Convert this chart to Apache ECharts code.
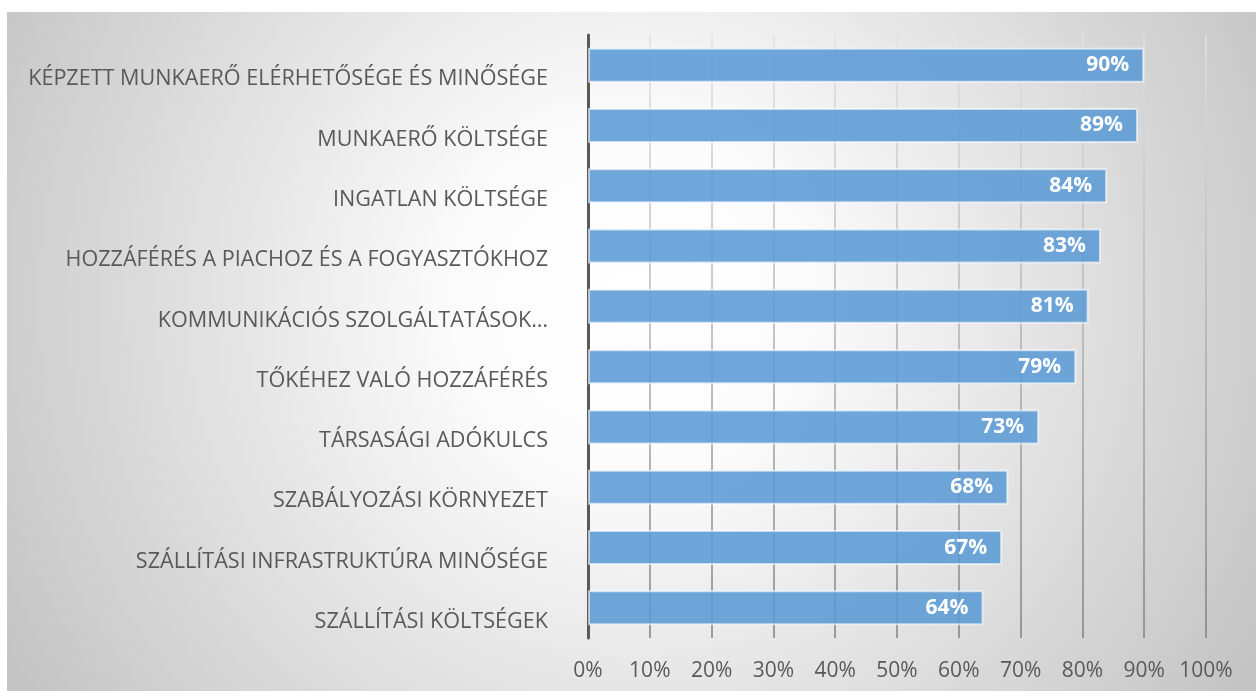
<!DOCTYPE html>
<html>
<head>
<meta charset="utf-8">
<script src="https://cdn.jsdelivr.net/npm/echarts@6/dist/echarts.min.js"></script>
<style>html,body{margin:0;padding:0;background:#fff;}#c{width:1256px;height:691px;}</style>
</head>
<body>
<div id="c"></div>
<script>
const categories = [
  'KÉPZETT MUNKAERŐ ELÉRHETŐSÉGE ÉS MINŐSÉGE',
  'MUNKAERŐ KÖLTSÉGE',
  'INGATLAN KÖLTSÉGE',
  'HOZZÁFÉRÉS A PIACHOZ ÉS A FOGYASZTÓKHOZ',
  'KOMMUNIKÁCIÓS SZOLGÁLTATÁSOK…',
  'TŐKÉHEZ VALÓ HOZZÁFÉRÉS',
  'TÁRSASÁGI ADÓKULCS',
  'SZABÁLYOZÁSI KÖRNYEZET',
  'SZÁLLÍTÁSI INFRASTRUKTÚRA MINŐSÉGE',
  'SZÁLLÍTÁSI KÖLTSÉGEK'
];
const values = [90, 89, 84, 83, 81, 79, 73, 68, 67, 64];
const xTicks = [0, 10, 20, 30, 40, 50, 60, 70, 80, 90, 100];

const chart = echarts.init(document.getElementById('c'), null, {renderer: 'canvas'});
const font = '"Open Sans", sans-serif';
chart.setOption({
  animation: false,
  graphic: {
    elements: [{
      type: 'rect', z: -100, silent: true,
      shape: {x: 7, y: 12, width: 1249, height: 679},
      style: {
        fill: new echarts.graphic.RadialGradient(631, 300, 720, [
          {offset: 0, color: '#ffffff'},
          {offset: 0.25, color: '#fbfbfb'},
          {offset: 1, color: '#c4c4c4'}
        ], true)
      }
    }]
  },
  grid: {left: 588, right: 50, top: 35, bottom: 53, containLabel: false},
  xAxis: {
    type: 'value', min: xTicks[0], max: xTicks[xTicks.length - 1], interval: 10,
    axisLine: {show: false}, axisTick: {show: false},
    axisLabel: {formatter: '{value}%', color: '#595959', fontFamily: font, fontSize: 21, margin: 23},
    splitLine: {show: true, lineStyle: {width: 1.5, color: new echarts.graphic.LinearGradient(0, 35, 0, 638, [
      {offset: 0, color: '#e2e2e2'},
      {offset: 1, color: '#808080'}
    ], true)}}
  },
  yAxis: {
    type: 'category', inverse: true, data: categories,
    axisLine: {show: true, lineStyle: {color: '#595959', width: 3}},
    axisTick: {show: false},
    axisLabel: {color: '#595959', fontFamily: font, fontSize: 21.6, margin: 40, verticalAlign: 'top', lineHeight: 28}
  },
  series: [{
    type: 'bar', data: values, barCategoryGap: '42%',
    itemStyle: {color: 'rgba(91,155,213,0.88)', borderColor: 'rgba(255,255,255,0.6)', borderWidth: 2},
    label: {show: true, position: 'insideRight', distance: 15, formatter: '{c}%', color: '#fff', fontWeight: 'bold', fontFamily: font, fontSize: 21}
  }]
});
</script>
</body>
</html>
